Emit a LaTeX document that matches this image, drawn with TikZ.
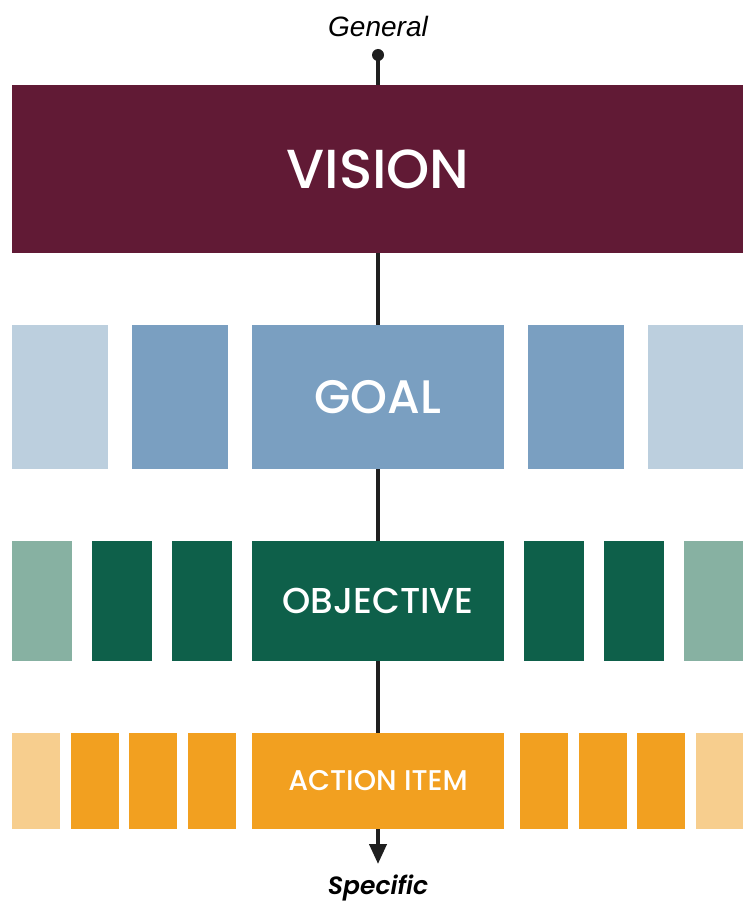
\documentclass[tikz,border=0pt]{standalone}
\usepackage{fontspec}
\setmainfont{Poppins}[UprightFont=* Medium, ItalicFont=* SemiBold Italic]
\newfontfamily\labelfont{Liberation Sans}
\usetikzlibrary{arrows.meta,positioning}
\definecolor{visioncol}{HTML}{611A35}
\definecolor{goaldark}{HTML}{7A9FC1}
\definecolor{goallight}{HTML}{BCCFDE}
\definecolor{objdark}{HTML}{0E604A}
\definecolor{objlight}{HTML}{87B1A2}
\definecolor{actdark}{HTML}{F2A020}
\definecolor{actlight}{HTML}{F7CE8E}
\tikzstyle{bar}=[rectangle, inner sep=0pt, outer sep=0pt, text=white]
\tikzstyle{goal bar}=[bar, minimum height=144pt, minimum width=96pt]
\tikzstyle{obj bar}=[bar, minimum height=120pt, minimum width=60pt]
\tikzstyle{act bar}=[bar, minimum height=96pt, minimum width=48pt]

\begin{document}
\begin{tikzpicture}[x=1pt, y=-1pt]
  \useasboundingbox (0,0) rectangle (742,904);

  % the axis runs behind all the bars
  \coordinate (top) at (378,55);
  \coordinate (bottom) at (378,864);
  \draw[line width=4pt, color=black!88, -{Triangle[length=20pt,width=17pt]}] (top) -- (bottom);
  \fill[black!88] (top) circle (6pt);

  \node[] (general) at (378,26) {\labelfont\itshape\fontsize{28}{28}\selectfont General};
  \node[] (specific) at (378,888) {\itshape\fontsize{25}{25}\selectfont Specific};

  % vision
  \node[bar, fill=visioncol, minimum width=732pt, minimum height=168pt] (vision) at (378,169)
    {\fontsize{55}{55}\selectfont VISION};

  % goals
  \node[goal bar, fill=goaldark, minimum width=252pt] (goal) at (378,397)
    {\fontsize{47}{47}\selectfont GOAL};
  \node[goal bar, fill=goaldark] (g2) [left = 24pt of goal] {};
  \node[goal bar, fill=goallight] (g1) [left = 24pt of g2] {};
  \node[goal bar, fill=goaldark] (g3) [right = 24pt of goal] {};
  \node[goal bar, fill=goallight] (g4) [right = 24pt of g3] {};

  % objectives
  \node[obj bar, fill=objdark, minimum width=252pt] (objective) at (378,601)
    {\fontsize{36}{36}\selectfont OBJECTIVE};
  \node[obj bar, fill=objdark] (o3) [left = 20pt of objective] {};
  \node[obj bar, fill=objdark] (o2) [left = 20pt of o3] {};
  \node[obj bar, fill=objlight] (o1) [left = 20pt of o2] {};
  \node[obj bar, fill=objdark] (o4) [right = 20pt of objective] {};
  \node[obj bar, fill=objdark] (o5) [right = 20pt of o4] {};
  \node[obj bar, fill=objlight] (o6) [right = 20pt of o5] {};

  % action items
  \node[act bar, fill=actdark, minimum width=252pt] (action) at (378,781)
    {\fontsize{28.5}{28.5}\selectfont ACTION ITEM};
  \node[act bar, fill=actdark] (a4) [left = 16pt of action] {};
  \node[act bar, fill=actdark] (a3) [left = 10.67pt of a4] {};
  \node[act bar, fill=actdark] (a2) [left = 10.67pt of a3] {};
  \node[act bar, fill=actlight] (a1) [left = 10.67pt of a2] {};
  \node[act bar, fill=actdark] (a5) [right = 16pt of action] {};
  \node[act bar, fill=actdark] (a6) [right = 10.67pt of a5] {};
  \node[act bar, fill=actdark] (a7) [right = 10.67pt of a6] {};
  \node[act bar, fill=actlight] (a8) [right = 10.67pt of a7] {};

\end{tikzpicture}
\end{document}
